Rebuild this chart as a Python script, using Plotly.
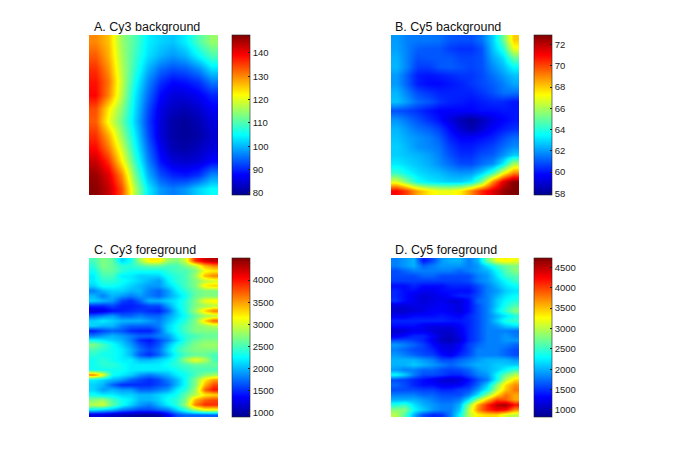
import plotly.graph_objects as go

# values, rows top to bottom, columns left to right
cy3_bg = [
    [130,126,115,110,104,102,101,104,110,115],
    [133,127,116,109,103,100,98,100,105,110],
    [136,129,117,108,100,95,93,94,97,103],
    [138,131,118,106,97,91,88,89,91,96],
    [139,130,117,104,95,88,85,85,87,90],
    [134,123,114,103,93,86,83,82,84,87],
    [133,121,112,102,92,85,81,80,82,85],
    [136,127,115,104,93,85,81,80,81,84],
    [139,131,119,106,95,87,82,81,83,85],
    [143,136,123,109,97,89,85,84,85,88],
    [146,141,130,113,100,93,90,89,91,97],
    [147,143,134,117,104,98,96,98,102,105],
]
cy5_bg = [
    [62,61.6,61.5,61.5,61.4,61,60.9,60.9,61.4,62.8,65,68],
    [62.1,61.6,61.1,61,61,60.6,60.4,60.4,60.9,62.6,64,67],
    [62.3,61.6,60.9,61,61,61,60.7,60.7,60.9,62.2,63,65],
    [62.4,61.6,60.6,60.6,61,61.1,60.9,60.7,60.9,61.8,62.5,63.5],
    [62,61.1,60.1,60,60.1,60.3,60.5,60.5,60.8,61.4,62,62.6],
    [62,61.1,60.1,59.8,59.8,60,60.2,60.5,60.8,61.1,61.6,62.2],
    [62.4,61.6,60.8,60.5,60.2,60.2,60.2,60.2,60.5,60.9,61.4,61.4],
    [62.6,62,61.3,61,60.5,60.2,60.1,59.9,60.1,60.3,60.3,60],
    [60.9,60.7,60.4,60,59.7,59.7,59.7,59.7,59.9,59.9,60,60],
    [61.9,61.4,60.9,60.4,59.9,59.2,58.5,58.1,58.6,59.3,59.7,60],
    [62.4,61.9,61.4,61.1,60.6,59.8,58.9,58.4,59,59.7,60.1,60.4],
    [62.6,62.2,61.9,61.6,61.1,60.2,59.7,59.7,59.9,60.2,60.8,61.3],
    [62.8,62.4,61.9,61.7,61.4,60.6,60.1,60.1,60.4,60.7,61.3,61.8],
    [62.8,62.6,62.4,62.1,61.6,60.9,60.4,60.4,60.9,61.1,61.9,62.8],
    [63.2,62.9,62.6,62.3,61.8,61.3,60.8,60.8,61.3,61.8,63.3,66],
    [64.2,63.5,63,62.7,62.5,62.1,61.9,62,62.8,64.3,67,69],
    [66.8,65.2,63.7,63.2,63,62.8,62.8,63.3,65.3,69,71.5,72.8],
    [71,70,68.5,67.5,67,67,67.5,69,70.5,71.5,72.5,73],
]
cy3_fg = [
    [2500,2700,2600,2100,2300,2800,3200,3200,2800,2700,3000,3900,4200,4300],
    [2400,2700,2600,2400,2400,2500,2600,2600,2500,2500,2700,2900,3400,3600],
    [2300,2600,2600,2400,2300,2300,2300,2300,2400,2500,2500,2700,3100,3200],
    [2200,2500,2500,2200,2200,2100,2100,2100,2300,2400,2500,2800,3400,3600],
    [2200,2400,2400,2300,2200,2100,2000,1900,2200,2400,2500,2700,2900,3000],
    [2100,2300,2300,2200,2100,2000,1900,1900,2100,2300,2500,2700,3200,3300],
    [1800,2000,2100,2100,2000,2000,1800,1700,1900,2200,2400,2600,2700,2700],
    [2000,1800,2000,1900,1800,1900,1800,1700,1900,2100,2300,2600,2700,2700],
    [2100,2000,1900,1600,1500,1700,2000,2000,2100,2200,2400,2700,3100,3200],
    [1500,1500,1600,1450,1450,1500,1600,1600,1900,2200,2400,2700,2800,2900],
    [1200,1250,1400,1450,1500,1550,1500,1450,1700,2100,2400,2800,3300,3600],
    [1700,1800,1900,1700,1700,1800,1700,1700,1900,2100,2300,2600,2800,2900],
    [2100,2200,2100,2000,2000,2000,1900,1800,2000,2200,2400,2700,3300,3700],
    [2100,2000,2000,1800,1700,1700,1700,1800,2100,2300,2500,2700,2800,2900],
    [1450,1600,1700,1650,1500,1450,1450,1700,2100,2300,2500,2700,2700,2700],
    [1800,1900,2000,1900,1800,1700,1700,1800,1900,2200,2400,2500,2600,2600],
    [2300,2200,2100,2000,1800,1500,1400,1600,1800,2100,2400,2600,2700,2700],
    [2700,2500,2300,2100,1900,1650,1500,1650,2000,2300,2500,2700,2800,2800],
    [2500,2400,2300,2200,2000,1750,1600,1750,2100,2400,2600,2700,2700,2700],
    [2400,2300,2300,2200,2000,1650,1500,1700,2000,2300,2500,2600,2600,2500],
    [2300,2400,2300,2200,2200,2000,2000,2100,2200,2400,2800,3100,2900,2500],
    [2300,2400,2400,2300,2200,2200,2200,2200,2300,2400,2500,2600,2600,2600],
    [2300,2300,2300,2300,2200,2200,2200,2200,2200,2300,2400,2500,2500,2500],
    [3600,3100,2300,2200,2100,1900,1800,1900,2000,2200,2300,2500,2700,2800],
    [2200,2100,2000,1900,1700,1600,1500,1600,1800,2000,2300,2700,3200,3500],
    [2100,2000,1700,1500,1500,1500,1500,1600,1700,2000,2300,2700,3400,3800],
    [2100,1900,2000,1900,1900,1700,1700,1800,1900,2200,2400,2800,3700,4000],
    [2300,2200,2200,2100,2100,2000,2000,2100,2200,2300,2600,2900,3200,3300],
    [2700,2800,2500,2300,2200,2000,2000,2100,2300,2400,2700,3400,3700,3800],
    [2900,3000,2600,2300,2100,1900,1800,2000,2200,2400,2800,3600,3900,3900],
    [2200,2100,2000,1800,1700,1600,1600,1700,1800,2100,2400,2800,3100,3100],
    [1200,1200,1100,1050,1000,950,950,1000,1300,1600,1700,1700,1700,1700],
]
cy5_fg = [
    [1800,1900,2000,1400,1600,1900,2000,2000,1800,2000,2700,3200,3300,3200],
    [1800,1900,2000,1700,1800,1900,1900,1900,1800,1900,2200,2500,2700,2800],
    [1600,1700,1800,1800,1800,1800,1800,1700,1800,1900,2000,2300,2600,2800],
    [1600,1600,1600,1700,1700,1600,1600,1600,1600,1800,1900,2200,2500,2600],
    [1550,1550,1550,1550,1550,1550,1550,1550,1600,1800,1900,2100,2300,2500],
    [1350,1350,1450,1350,1350,1350,1450,1450,1450,1600,1800,2000,2200,2300],
    [1450,1350,1350,1250,1250,1350,1350,1350,1350,1550,1800,1900,2100,2200],
    [1450,1350,1250,1150,1200,1250,1350,1450,1450,1600,1800,2000,2200,2300],
    [1500,1350,1250,1150,1200,1250,1150,1150,1350,1700,1800,2100,2300,2400],
    [1150,1150,1200,1200,1250,1300,1250,1200,1350,1600,1800,2100,2400,2600],
    [1100,1100,1150,1200,1300,1300,1250,1150,1350,1600,1800,2200,2500,2800],
    [1250,1250,1350,1350,1350,1400,1350,1300,1450,1600,1800,2000,2200,2400],
    [1450,1450,1450,1450,1450,1450,1400,1400,1450,1600,1800,2100,2400,2500],
    [1350,1350,1350,1250,1200,1200,1200,1300,1450,1600,1800,1900,2100,2200],
    [1100,1150,1250,1250,1150,1100,1100,1250,1450,1600,1800,1800,1800,1750],
    [1250,1350,1450,1450,1300,1100,1050,1200,1450,1600,1800,1800,1900,1800],
    [1600,1600,1550,1450,1250,1050,1000,1150,1450,1600,1800,1800,1900,1900],
    [1900,1800,1700,1550,1350,1200,1150,1300,1550,1700,1800,1800,1800,1700],
    [1800,1700,1600,1550,1450,1250,1200,1350,1550,1800,1800,1800,1700,1600],
    [1900,1800,1700,1600,1550,1350,1250,1450,1600,1800,1800,1800,1700,1600],
    [2000,2000,2000,1900,1800,1600,1600,1700,1800,1900,2000,2000,2000,1900],
    [2000,2000,2100,2000,1900,1800,1700,1800,1900,2000,2000,2100,2100,2100],
    [1900,1800,1800,1700,1700,1600,1550,1600,1700,1900,2000,2100,2300,2500],
    [2300,2100,1800,1600,1600,1550,1450,1450,1600,1800,1900,2300,2700,3000],
    [1600,1550,1450,1350,1250,1150,1100,1150,1350,1600,1800,2300,3000,3400],
    [1700,1600,1450,1350,1350,1250,1250,1300,1450,1700,2100,2800,3400,3700],
    [1600,1600,1600,1550,1550,1450,1450,1550,1600,1900,2300,3000,3500,3800],
    [1800,1800,1800,1700,1700,1600,1600,1600,1800,2200,2800,3400,3800,3600],
    [2000,2000,2000,1900,1800,1700,1700,1800,2200,2900,3500,4000,3900,3600],
    [2400,2500,2200,2000,1900,1800,1800,2000,2800,3600,4100,4500,4600,4200],
    [2800,2800,2300,2100,1900,1800,1800,2100,3000,3700,4100,4300,4200,3700],
    [3000,2600,2000,1600,1450,1500,1800,2300,3000,3300,3400,3400,3100,3000],
]
titles = ["A. Cy3 background", "B. Cy5 background", "C. Cy3 foreground", "D. Cy5 foreground"]
ticks_a = [80, 90, 100, 110, 120, 130, 140]
ticks_b = [58, 60, 62, 64, 66, 68, 70, 72]
ticks_c = [1000, 1500, 2000, 2500, 3000, 3500, 4000]
ticks_d = [1000, 1500, 2000, 2500, 3000, 3500, 4000, 4500]

# the page body has an 8px margin, so the figure is that much smaller
W, H = 677, 461
jet = [[0, "#00008f"], [0.125, "#0000ff"], [0.375, "#00ffff"],
       [0.625, "#ffff00"], [0.875, "#ff0000"], [1, "#800000"]]
font = "Liberation Sans"

# data, ticks, z range, panel left/right/top/bottom, colorbar left, title x/y in pixels
panels = [
    (cy3_bg, ticks_a, 79.1, 147.7, 81, 210, 27, 187, 224, 84, 19),
    (cy5_bg, ticks_b, 57.84, 72.9, 383, 511, 27, 187, 526, 385, 19),
    (cy3_fg, ticks_c, 903, 4500, 81, 210, 250, 409, 224, 84, 242),
    (cy5_fg, ticks_d, 828, 4729, 383, 511, 250, 409, 526, 385, 242),
]

fig = go.Figure()
for i, (z, ticks, zmin, zmax, x0, x1, y0, y1, cb_x, tx, ty) in enumerate(panels):
    n = "" if i == 0 else str(i + 1)
    fig.add_trace(go.Heatmap(
        z=z, zmin=zmin, zmax=zmax, colorscale=jet, zsmooth="best",
        xaxis="x" + n, yaxis="y" + n, hoverinfo="skip",
        colorbar=dict(x=cb_x / W, xanchor="left", xpad=0, ypad=0,
                      y=1 - y1 / H, yanchor="bottom", len=(y1 - y0) / H,
                      thickness=18, outlinewidth=0.6, outlinecolor="#222222",
                      tickvals=ticks, ticks="inside", ticklen=2, tickwidth=0.5,
                      tickcolor="#222222", tickfont=dict(family=font, size=9.5, color="#222222")),
    ))
    fig.update_layout({
        "xaxis" + n: dict(domain=[x0 / W, x1 / W], visible=False),
        "yaxis" + n: dict(domain=[1 - y1 / H, 1 - y0 / H], visible=False, autorange="reversed"),
    })
    fig.add_annotation(text=titles[i], xref="paper", yref="paper", x=tx / W, y=1 - ty / H,
                       xanchor="left", yanchor="middle", showarrow=False,
                       font=dict(family=font, size=12.5, color="#111111"))

fig.update_layout(width=W, height=H, margin=dict(l=0, r=0, t=0, b=0),
                  paper_bgcolor="white", plot_bgcolor="white")

fig.write_html("out.html")
